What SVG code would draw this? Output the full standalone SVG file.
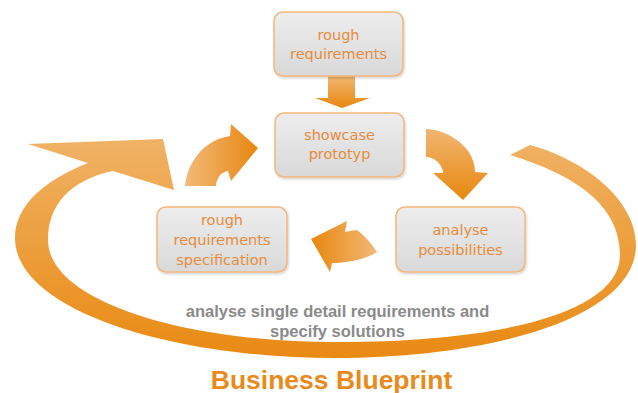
<svg xmlns="http://www.w3.org/2000/svg" width="638" height="393" viewBox="0 0 638 393">
<defs>
<linearGradient id="boxFill" x1="0" y1="0" x2="0" y2="1">
<stop offset="0" stop-color="#EDEDED"/>
<stop offset="1" stop-color="#D9D9D9"/>
</linearGradient>
<linearGradient id="ringFill" gradientUnits="userSpaceOnUse" x1="0" y1="139" x2="0" y2="358">
<stop offset="0" stop-color="#F0B266"/>
<stop offset="1" stop-color="#E98A12"/>
</linearGradient>
<linearGradient id="gradRight" x1="0" y1="0" x2="1" y2="0">
<stop offset="0" stop-color="#F2B979"/>
<stop offset="1" stop-color="#E8870E"/>
</linearGradient>
<linearGradient id="gradLeft" x1="1" y1="0" x2="0" y2="0">
<stop offset="0" stop-color="#F2B979"/>
<stop offset="1" stop-color="#E8870E"/>
</linearGradient>
<linearGradient id="gradDown" x1="0" y1="0" x2="0" y2="1">
<stop offset="0" stop-color="#F1B671"/>
<stop offset="1" stop-color="#E8870E"/>
</linearGradient>
<filter id="shadow" x="-10%" y="-10%" width="125%" height="130%">
<feDropShadow dx="1" dy="1.5" stdDeviation="1.2" flood-color="#000" flood-opacity="0.18"/>
</filter>
<style>
.box{fill:url(#boxFill);stroke:#F3B67A;stroke-width:1.5;filter:url(#shadow)}
.lbl{font-family:"DejaVu Sans",Verdana,sans-serif;font-size:14.5px;fill:#E98B3C;text-anchor:middle}
.note{font-family:"Liberation Sans",Arial,sans-serif;font-size:16.5px;font-weight:bold;fill:#8A8A8A;text-anchor:middle}
.title{font-family:"Liberation Sans",Arial,sans-serif;font-size:26.5px;font-weight:bold;fill:#E98A1C;text-anchor:middle}
</style>
</defs>
<g id="connectors">
<path id="ring" fill="url(#ringFill)" d="M163,139 L174,190 L113,171 C70,180 48,205 48,240 C48,300 180,342 335,342 C510,342 620,310 620,255 C620,205 575,175 510,155 L530,145 C585,160 636,200 636,245 C636,318 490,358 335,358 C170,358 15,310 15,238 C15,205 45,180 88,163 L28,144 Z"/>
<path id="arrow-down" fill="url(#gradDown)" d="M328,76 L355,76 L355,98 L370,98 L342,108 L315,98 L328,98 Z"/>
<path id="arrow-up-right" fill="url(#gradRight)" d="M185,186 C188,160 205,140 230,136 L231,124 L258,148 L231,181 L228,171 C220,172 216,180 216,186 Z"/>
<path id="arrow-down-right" fill="url(#gradDown)" d="M426,129 L435,130 C455,135 475,150 475,172 L488,173 L463,200 L433,173 L443,173 C443,165 435,157 426,157 Z"/>
<path id="arrow-left" fill="url(#gradLeft)" d="M311,239 L347,221 L345,232 C350,231 354,230 357,230 C365,236 372,244 377,252 C365,260 345,263 332,263 L330,272 Z"/>
</g>
<g id="node-rough-requirements">
<rect class="box" x="274" y="12" width="129" height="64" rx="9"/>
<text class="lbl" x="338.5" y="40">rough</text>
<text class="lbl" x="338.5" y="59">requirements</text>
</g>
<g id="node-showcase-prototyp">
<rect class="box" x="275" y="113" width="129" height="64" rx="9"/>
<text class="lbl" x="339.5" y="140">showcase</text>
<text class="lbl" x="339.5" y="159">prototyp</text>
</g>
<g id="node-rough-requirements-specification">
<rect class="box" x="157" y="207" width="130" height="65" rx="9"/>
<text class="lbl" x="222" y="225">rough</text>
<text class="lbl" x="222" y="245">requirements</text>
<text class="lbl" x="222" y="265">specification</text>
</g>
<g id="node-analyse-possibilities">
<rect class="box" x="396" y="207" width="129" height="65" rx="9"/>
<text class="lbl" x="460.5" y="235">analyse</text>
<text class="lbl" x="460.5" y="255">possibilities</text>
</g>
<g id="labels">
<text class="note" x="337.5" y="317">analyse single detail requirements and</text>
<text class="note" x="337.5" y="337">specify solutions</text>
<text class="title" x="331.5" y="389">Business Blueprint</text>
</g>
</svg>
